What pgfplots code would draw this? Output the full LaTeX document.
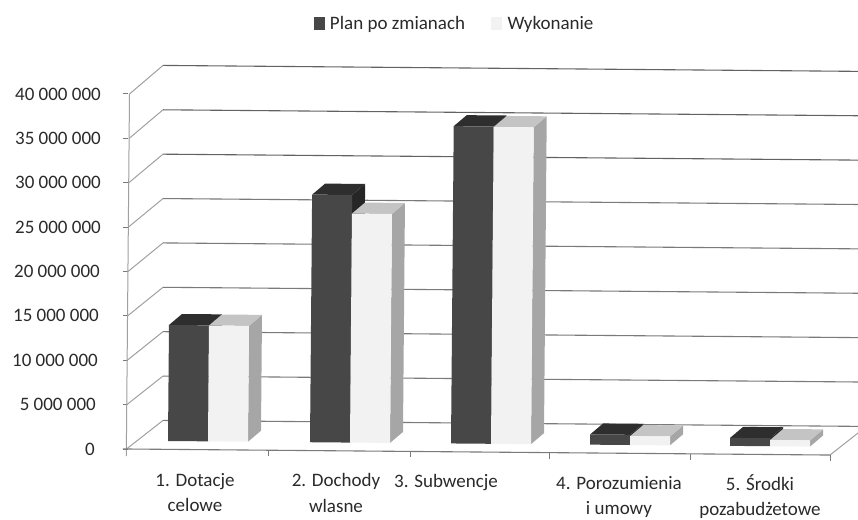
\documentclass[border=0pt]{standalone}
\usepackage{pgfplots}
\pgfplotsset{compat=1.18}
\usepackage{fontspec}
\setmainfont{Carlito}
\definecolor{txt}{HTML}{2A2A2A}
\definecolor{gridc}{HTML}{7A7A7A}
\definecolor{wallc}{HTML}{A0A0A0}
\definecolor{dkF}{HTML}{474747}
\definecolor{dkT}{HTML}{2E2E2E}
\definecolor{dkS}{HTML}{262626}
\definecolor{ltF}{HTML}{F2F2F2}
\definecolor{ltT}{HTML}{C4C4C4}
\definecolor{ltS}{HTML}{A6A6A6}
% one 3D column: left x (px), value (millions), front, top, side colours
\newcommand{\column}[5]{%
  \pgfmathsetmacro{\xa}{#1}%
  \pgfmathsetmacro{\xb}{#1+40}%
  \pgfmathsetmacro{\ba}{0.9014-0.00097*(#1-168)}%
  \pgfmathsetmacro{\bb}{\ba-0.0388}%
  \pgfmathsetmacro{\ta}{\ba+#2}%
  \pgfmathsetmacro{\tb}{\bb+#2}%
  \pgfmathsetmacro{\xat}{\xa+0.076*#2}%
  \pgfmathsetmacro{\xbt}{\xb+0.076*#2}%
  \pgfmathsetmacro{\xcb}{\xb+13}%
  \pgfmathsetmacro{\xct}{\xbt+13}%
  \pgfmathsetmacro{\xdt}{\xat+13}%
  \pgfmathsetmacro{\bc}{\bb+1.24}%
  \pgfmathsetmacro{\tc}{\tb+1.24}%
  \pgfmathsetmacro{\td}{\ta+1.24}%
  \addplot[fill=#5,draw=none,forget plot] coordinates {(\xb,\bb) (\xcb,\bc) (\xct,\tc) (\xbt,\tb)};
  \addplot[fill=#4,draw=none,forget plot] coordinates {(\xat,\ta) (\xdt,\td) (\xct,\tc) (\xbt,\tb)};
  \addplot[fill=#3,draw=none,forget plot] coordinates {(\xa,\ba) (\xb,\bb) (\xbt,\tb) (\xat,\ta)};
}
\begin{document}
\begin{tikzpicture}[x=1pt,y=1pt]
\path[use as bounding box] (-128pt,-70pt) rectangle (730pt,449pt);
\begin{axis}[
  scale only axis, width=730pt, height=355pt,
  xmin=128, xmax=858, ymin=0, ymax=40,
  clip=false,
  axis line style={draw=none},
  tick style={draw=gridc, line width=1pt},
  tick align=outside,
  xtick={195,336,446,619,760},
  xticklabels={
    {\rule{0pt}{14pt}1. Dotacje\\celowe},
    {\rule{0pt}{14.5pt}2. Dochody\\wlasne},
    {\rule{0pt}{15pt}3. Subwencje},
    {\rule{0pt}{17pt}4. Porozumienia\\i umowy},
    {\rule{0pt}{18pt}5. Środki\\pozabudżetowe}},
  xticklabel style={align=center, anchor=north, text=txt, font=\fontsize{19}{25.5}\selectfont, yshift=-14.5pt},
  x tick style={draw=none},
  major tick length=5pt,
  ytick={0,5,10,15,20,25,30,35,40},
  yticklabels={
    {0\hspace*{28pt}},{5 000 000\hspace*{27pt}},{10 000 000\hspace*{25pt}},
    {15 000 000\hspace*{24pt}},{20 000 000\hspace*{23pt}},{25 000 000\hspace*{22pt}},
    {30 000 000\hspace*{22pt}},{35 000 000\hspace*{22pt}},{40 000 000\hspace*{22pt}}},
  yticklabel style={anchor=east, text=txt, font=\fontsize{19}{22}\selectfont, inner sep=0pt},
  legend style={draw=none, fill=none, at={(rel axis cs:0.5,1)}, anchor=south, yshift=59pt, xshift=-38.5pt,
    legend columns=2, font=\fontsize{19}{22}\selectfont, text=txt,
    /tikz/every even column/.style={column sep=24pt}},
  legend image code/.code={\path[fill,draw=none] (0cm,-0.23cm) rectangle (0.39cm,0.23cm);\path (0.5cm,0cm);},
]
\addlegendimage{fill=dkF}
\addlegendentry{Plan po zmianach}
\addlegendimage{fill=ltF}
\addlegendentry{Wykonanie}
% back wall
\addplot[gridc,line width=1.1pt,forget plot] coordinates {(163,3.22) (858,2.55)};
\addplot[gridc,line width=1.1pt,forget plot] coordinates {(163,8.22) (858,7.55)};
\addplot[gridc,line width=1.1pt,forget plot] coordinates {(163,13.22) (858,12.55)};
\addplot[gridc,line width=1.1pt,forget plot] coordinates {(163,18.22) (858,17.55)};
\addplot[gridc,line width=1.1pt,forget plot] coordinates {(163,23.22) (858,22.55)};
\addplot[gridc,line width=1.1pt,forget plot] coordinates {(163,28.22) (858,27.55)};
\addplot[gridc!80!black,line width=1.1pt,forget plot] coordinates {(163,33.22) (858,32.55)};
\addplot[gridc!80!black,line width=1.1pt,forget plot] coordinates {(163,38.22) (858,37.55)};
\addplot[gridc!80!black,line width=1.1pt,forget plot] coordinates {(163,43.22) (858,42.55)};
% side wall
\addplot[wallc,line width=1pt,forget plot] coordinates {(126.5,0) (163,3.22)};
\addplot[wallc,line width=1pt,forget plot] coordinates {(126.9,5) (163,8.22)};
\addplot[wallc,line width=1pt,forget plot] coordinates {(127.3,10) (163,13.22)};
\addplot[wallc,line width=1pt,forget plot] coordinates {(127.6,15) (163,18.22)};
\addplot[wallc,line width=1pt,forget plot] coordinates {(128,20) (163,23.22)};
\addplot[wallc,line width=1pt,forget plot] coordinates {(128.4,25) (163,28.22)};
\addplot[wallc,line width=1pt,forget plot] coordinates {(128.8,30) (163,33.22)};
\addplot[wallc,line width=1pt,forget plot] coordinates {(129.2,35) (163,38.22)};
\addplot[wallc,line width=1pt,forget plot] coordinates {(129.5,40) (163,43.22)};
% axis lines and ticks
\addplot[wallc,line width=1pt,forget plot] coordinates {(126.3,-0.8) (129.5,40)};
\addplot[gridc,line width=1.1pt,forget plot] coordinates {(123,0) (126.5,0) (830,-0.68)};
\addplot[wallc,line width=1pt,forget plot] coordinates {(830,-0.68) (858,1.8)};
\addplot[gridc,line width=1pt,forget plot] coordinates {(268,-0.14) (268,-0.8)};
\addplot[gridc,line width=1pt,forget plot] coordinates {(410,-0.27) (410,-0.95)};
\addplot[gridc,line width=1pt,forget plot] coordinates {(549,-0.41) (549,-1.08)};
\addplot[gridc,line width=1pt,forget plot] coordinates {(690,-0.55) (690,-1.2)};
\addplot[gridc,line width=1pt,forget plot] coordinates {(830,-0.68) (830,-1.35)};
% columns: Plan po zmianach
\column{168}{13.07}{dkF}{dkT}{dkS}
\column{310}{27.9}{dkF}{dkT}{dkS}
\column{451}{35.75}{dkF}{dkT}{dkS}
\column{590}{1.15}{dkF}{dkT}{dkS}
\column{730}{0.9}{dkF}{dkT}{dkS}
% columns: Wykonanie
\column{208}{13.05}{ltF}{ltT}{ltS}
\column{350}{25.8}{ltF}{ltT}{ltS}
\column{491}{35.7}{ltF}{ltT}{ltS}
\column{630}{1.0}{ltF}{ltT}{ltS}
\column{770}{0.7}{ltF}{ltT}{ltS}
\end{axis}
\end{tikzpicture}
\end{document}
